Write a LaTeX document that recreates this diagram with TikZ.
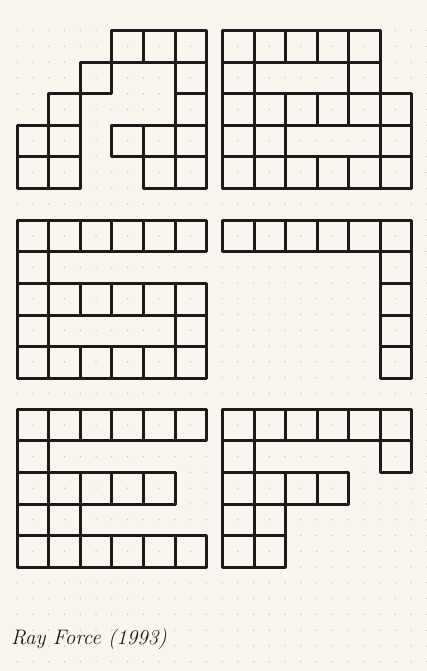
\documentclass[tikz,border=0pt]{standalone}
\usepackage{tikz}

\definecolor{paper}{RGB}{248,246,238}
\definecolor{ink}{RGB}{28,26,26}
\definecolor{dotgray}{RGB}{190,189,183}

\begin{document}
\begin{tikzpicture}[
    x=1pt, y=-1pt,
    cell/.style={draw=ink, line width=3pt, line join=round, line cap=round},
    caption/.style={font=\itshape\fontsize{21}{24}\selectfont, text=ink, inner sep=0pt}
]
    % paper and dot grid
    \fill[paper] (0,0) rectangle (427,671);
    \useasboundingbox (0,0) rectangle (427,671);
    \foreach \i in {0,...,26}
        \foreach \j in {0,...,40}
            \fill[dotgray] (17.3+15.75*\i, 30.5+15.78*\j) circle (0.7);

    % top left glyph
    \begin{scope}[shift={(17.3,30.5)}]
        \foreach \r/\cs in {0/{3,4,5}, 1/{2,5}, 2/{1,5}, 3/{0,1,3,4,5}, 4/{0,1,4,5}}
            \foreach \c in \cs
                \draw[cell] (31.55*\c, 31.6*\r) rectangle ++(31.55, 31.6);
    \end{scope}

    % top right glyph
    \begin{scope}[shift={(222.5,30.5)}]
        \foreach \r/\cs in {0/{0,1,2,3,4}, 1/{0,4}, 2/{0,1,2,3,4,5}, 3/{0,1,5}, 4/{0,1,2,3,4,5}}
            \foreach \c in \cs
                \draw[cell] (31.55*\c, 31.6*\r) rectangle ++(31.55, 31.6);
    \end{scope}

    % middle left glyph
    \begin{scope}[shift={(17.3,220.3)}]
        \foreach \r/\cs in {0/{0,1,2,3,4,5}, 1/{0}, 2/{0,1,2,3,4,5}, 3/{0,5}, 4/{0,1,2,3,4,5}}
            \foreach \c in \cs
                \draw[cell] (31.55*\c, 31.6*\r) rectangle ++(31.55, 31.6);
    \end{scope}

    % middle right glyph
    \begin{scope}[shift={(222.5,220.3)}]
        \foreach \r/\cs in {0/{0,1,2,3,4,5}, 1/{5}, 2/{5}, 3/{5}, 4/{5}}
            \foreach \c in \cs
                \draw[cell] (31.55*\c, 31.6*\r) rectangle ++(31.55, 31.6);
    \end{scope}

    % bottom left glyph
    \begin{scope}[shift={(17.3,409.3)}]
        \foreach \r/\cs in {0/{0,1,2,3,4,5}, 1/{0}, 2/{0,1,2,3,4}, 3/{0,1}, 4/{0,1,2,3,4,5}}
            \foreach \c in \cs
                \draw[cell] (31.55*\c, 31.6*\r) rectangle ++(31.55, 31.6);
    \end{scope}

    % bottom right glyph
    \begin{scope}[shift={(222.5,409.3)}]
        \foreach \r/\cs in {0/{0,1,2,3,4,5}, 1/{0,5}, 2/{0,1,2,3}, 3/{0,1}, 4/{0,1}}
            \foreach \c in \cs
                \draw[cell] (31.55*\c, 31.6*\r) rectangle ++(31.55, 31.6);
    \end{scope}

    \node[caption, anchor=base west] (title) at (11,644) {Ray Force (1993)};
\end{tikzpicture}
\end{document}
